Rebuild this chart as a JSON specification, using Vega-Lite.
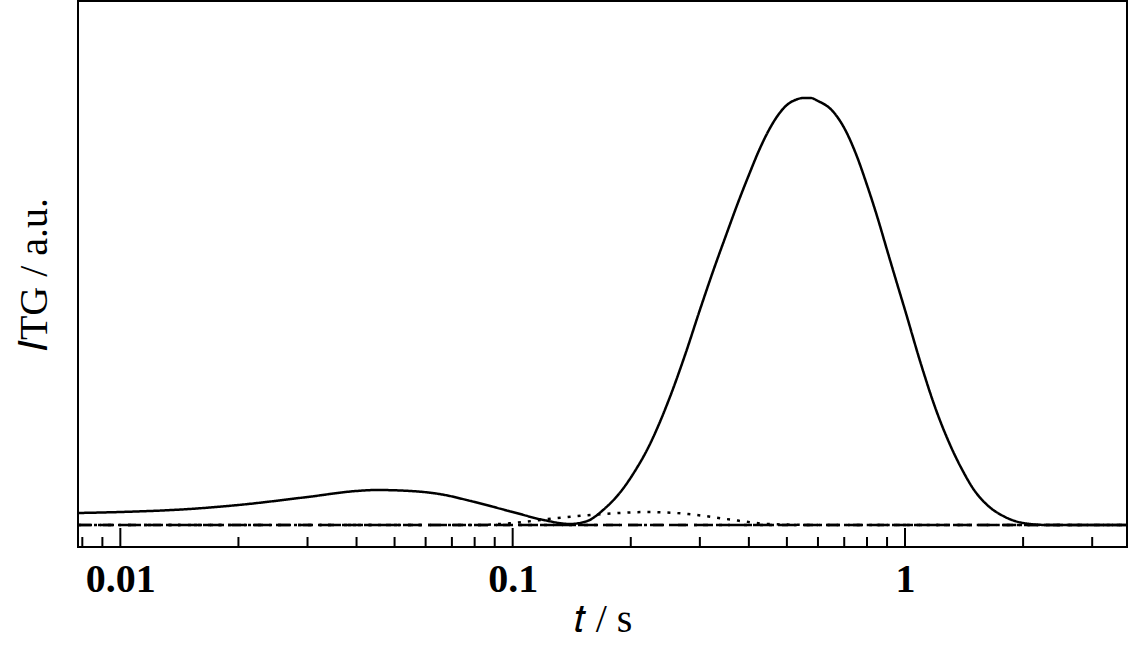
{
  "$schema": "https://vega.github.io/schema/vega-lite/v6.json",
  "width": 1049,
  "height": 546,
  "autosize": "none",
  "padding": {"left": 78, "top": 1, "right": 1, "bottom": 105},
  "config": {
    "view": {"stroke": "black", "strokeWidth": 2},
    "font": "Liberation Serif"
  },
  "datasets": {
    "curves": [
      {"t": 0.0078, "v": 34, "s": "solid"}, {"t": 0.01, "v": 35, "s": "solid"}, {"t": 0.015, "v": 38, "s": "solid"},
      {"t": 0.02, "v": 42, "s": "solid"}, {"t": 0.03, "v": 50, "s": "solid"}, {"t": 0.04, "v": 56, "s": "solid"},
      {"t": 0.045, "v": 57, "s": "solid"}, {"t": 0.055, "v": 56, "s": "solid"}, {"t": 0.065, "v": 53, "s": "solid"},
      {"t": 0.08, "v": 45, "s": "solid"}, {"t": 0.1, "v": 35, "s": "solid"}, {"t": 0.12, "v": 27, "s": "solid"},
      {"t": 0.14, "v": 23, "s": "solid"}, {"t": 0.155, "v": 26, "s": "solid"}, {"t": 0.17, "v": 37, "s": "solid"},
      {"t": 0.19, "v": 57, "s": "solid"}, {"t": 0.205, "v": 76, "s": "solid"}, {"t": 0.22, "v": 97, "s": "solid"},
      {"t": 0.25, "v": 147, "s": "solid"}, {"t": 0.275, "v": 192, "s": "solid"},
      {"t": 0.3, "v": 237, "s": "solid"}, {"t": 0.325, "v": 277, "s": "solid"}, {"t": 0.35, "v": 312, "s": "solid"},
      {"t": 0.375, "v": 344, "s": "solid"}, {"t": 0.4, "v": 372, "s": "solid"}, {"t": 0.425, "v": 397, "s": "solid"},
      {"t": 0.45, "v": 417, "s": "solid"}, {"t": 0.475, "v": 432, "s": "solid"}, {"t": 0.5, "v": 442, "s": "solid"},
      {"t": 0.525, "v": 447, "s": "solid"}, {"t": 0.55, "v": 449, "s": "solid"}, {"t": 0.575, "v": 449, "s": "solid"},
      {"t": 0.6, "v": 446, "s": "solid"}, {"t": 0.65, "v": 437, "s": "solid"}, {"t": 0.7, "v": 419, "s": "solid"},
      {"t": 0.75, "v": 393, "s": "solid"}, {"t": 0.8, "v": 362, "s": "solid"}, {"t": 0.85, "v": 330, "s": "solid"},
      {"t": 0.9, "v": 297, "s": "solid"}, {"t": 0.95, "v": 266, "s": "solid"}, {"t": 1.0, "v": 237, "s": "solid"},
      {"t": 1.1, "v": 182, "s": "solid"}, {"t": 1.2, "v": 137, "s": "solid"}, {"t": 1.3, "v": 103, "s": "solid"},
      {"t": 1.4, "v": 77, "s": "solid"}, {"t": 1.5, "v": 57, "s": "solid"},
      {"t": 1.6, "v": 44, "s": "solid"}, {"t": 1.8, "v": 30, "s": "solid"}, {"t": 2.0, "v": 24, "s": "solid"},
      {"t": 2.3, "v": 22, "s": "solid"}, {"t": 3.68, "v": 22, "s": "solid"},
      {"t": 0.0078, "v": 22, "s": "dotted"}, {"t": 0.08, "v": 22, "s": "dotted"}, {"t": 0.1, "v": 24, "s": "dotted"},
      {"t": 0.13, "v": 29, "s": "dotted"}, {"t": 0.17, "v": 33, "s": "dotted"}, {"t": 0.22, "v": 35, "s": "dotted"},
      {"t": 0.28, "v": 33, "s": "dotted"}, {"t": 0.35, "v": 28, "s": "dotted"}, {"t": 0.45, "v": 23, "s": "dotted"},
      {"t": 0.6, "v": 22, "s": "dotted"}, {"t": 3.68, "v": 22, "s": "dotted"},
      {"t": 0.0078, "v": 22, "s": "dashed"}, {"t": 3.68, "v": 22, "s": "dashed"},
      {"t": 0.0078, "v": 22, "s": "dashdot"}, {"t": 3.68, "v": 22, "s": "dashdot"}
    ],
    "ticks": [
      {"t": 0.01, "len": 19}, {"t": 0.1, "len": 19}, {"t": 1, "len": 19},
      {"t": 0.008, "len": 10}, {"t": 0.009, "len": 10},
      {"t": 0.02, "len": 10}, {"t": 0.03, "len": 10}, {"t": 0.04, "len": 10}, {"t": 0.05, "len": 10},
      {"t": 0.06, "len": 10}, {"t": 0.07, "len": 10}, {"t": 0.08, "len": 10}, {"t": 0.09, "len": 10},
      {"t": 0.2, "len": 10}, {"t": 0.3, "len": 10}, {"t": 0.4, "len": 10}, {"t": 0.5, "len": 10},
      {"t": 0.6, "len": 10}, {"t": 0.7, "len": 10}, {"t": 0.8, "len": 10}, {"t": 0.9, "len": 10},
      {"t": 2, "len": 10}, {"t": 3, "len": 10}
    ]
  },
  "layer": [
    {
      "data": {"name": "ticks"},
      "mark": {"type": "rule", "color": "black", "strokeWidth": 2},
      "encoding": {
        "x": {"field": "t", "type": "quantitative", "scale": {"type": "log", "domain": [0.0078, 3.68], "nice": false},
          "axis": {"values": [0.01, 0.1, 1], "format": "~g", "ticks": false, "domain": false, "grid": false,
            "labelFontSize": 40, "labelFontWeight": "bold", "labelColor": "black", "labelPadding": 12,
            "title": "𝑡 / s", "titleFontSize": 40, "titleFontWeight": "normal", "titleColor": "black", "titlePadding": 0}},
        "y": {"field": "len", "type": "quantitative", "scale": {"domain": [0, 546], "nice": false},
          "axis": {"ticks": false, "labels": false, "domain": false, "grid": false,
            "title": "𝐼TG / a.u.", "titleFontSize": 40, "titleFontWeight": "normal", "titleColor": "black", "titlePadding": 24}},
        "y2": {"datum": 0}
      }
    },
    {
      "data": {"name": "curves"},
      "mark": {"type": "line", "color": "black", "strokeWidth": 2.5, "clip": true, "interpolate": "monotone"},
      "encoding": {
        "x": {"field": "t", "type": "quantitative"},
        "y": {"field": "v", "type": "quantitative"},
        "detail": {"field": "s"},
        "strokeDash": {"field": "s", "type": "nominal", "legend": null,
          "scale": {"domain": ["solid", "dotted", "dashed", "dashdot"], "range": [[1, 0], [3, 7], [14, 8], [10, 6, 3, 6]]}}
      }
    }
  ]
}
